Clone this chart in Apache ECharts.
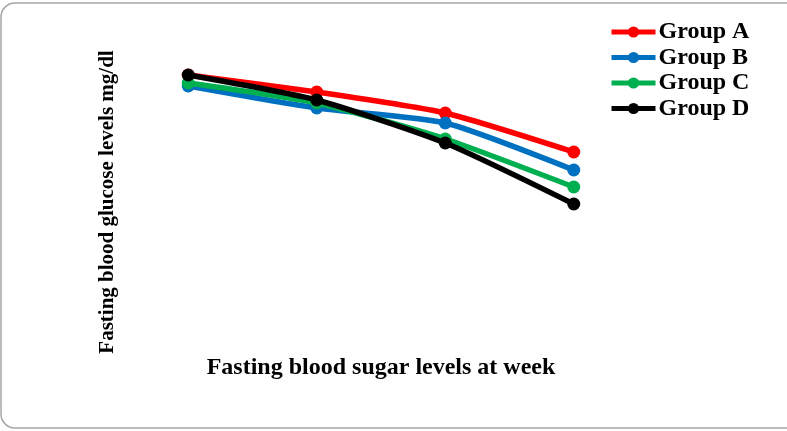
<!DOCTYPE html>
<html>
<head>
<meta charset="utf-8">
<script src="https://cdn.jsdelivr.net/npm/echarts@6/dist/echarts.min.js"></script>
<style>
  html, body { margin: 0; padding: 0; background: #fff; }
  #chart { width: 787px; height: 431px; }
</style>
</head>
<body>
<div id="chart"></div>
<script>
// weeks (labels not printed in the original)
var weeks = ['Week 0', 'Week 2', 'Week 4', 'Week 6'];

// fasting blood glucose
var groupA = [277, 260, 239, 200];
var groupB = [266, 244, 229, 182];
var groupC = [269, 249, 213, 165];
var groupD = [277, 252, 209, 148];

var colors = ['#ff0000', '#0070c0', '#00b050', '#000000'];
var names = ['Group A', 'Group B', 'Group C', 'Group D'];
var values = [groupA, groupB, groupC, groupD];

var fontSerif = '"Liberation Serif", "DejaVu Serif", serif';

var myChart = echarts.init(document.getElementById('chart'));

var series = [];
for (var i = 0; i < names.length; i++) {
    series.push({
        name: names[i],
        type: 'line',
        data: values[i],
        smooth: 0.2,
        symbol: 'circle',
        symbolSize: 13,
        lineStyle: { width: 5.5, color: colors[i] },
        itemStyle: { color: colors[i] },
        z: 2 + i
    });
}

var option = {
    animation: false,
    color: colors,
    graphic: [{
        type: 'rect',
        shape: { x: 1, y: 3, width: 820, height: 425, r: 14 },
        style: { fill: 'none', stroke: '#a6a6a6', lineWidth: 1.5 },
        silent: true
    }],
    legend: {
        orient: 'vertical',
        left: 604,
        top: 15,
        itemWidth: 44,
        itemHeight: 14,
        itemGap: 1.5,
        lineStyle: { width: 5 },
        textStyle: { fontFamily: fontSerif, fontWeight: 'bold', fontSize: 24, color: '#000', padding: [0, 0, 0, -2] },
        data: names
    },
    grid: { left: 124, top: 52, width: 514, height: 300 },
    xAxis: {
        type: 'category',
        data: weeks,
        boundaryGap: true,
        axisLine: { show: false },
        axisTick: { show: false },
        axisLabel: { show: false },
        name: 'Fasting blood sugar levels at week',
        nameLocation: 'middle',
        nameGap: 4,
        nameTextStyle: { fontFamily: fontSerif, fontWeight: 'bold', fontSize: 24, color: '#000', verticalAlign: 'top' }
    },
    yAxis: {
        type: 'value',
        min: 0,
        max: 300,
        axisLine: { show: false },
        axisTick: { show: false },
        axisLabel: { show: false },
        splitLine: { show: false },
        name: 'Fasting blood glucose levels mg/dl',
        nameLocation: 'middle',
        nameGap: 6,
        nameTextStyle: { fontFamily: fontSerif, fontWeight: 'bold', fontSize: 21, color: '#000' }
    },
    series: series
};

myChart.setOption(option);
</script>
</body>
</html>
